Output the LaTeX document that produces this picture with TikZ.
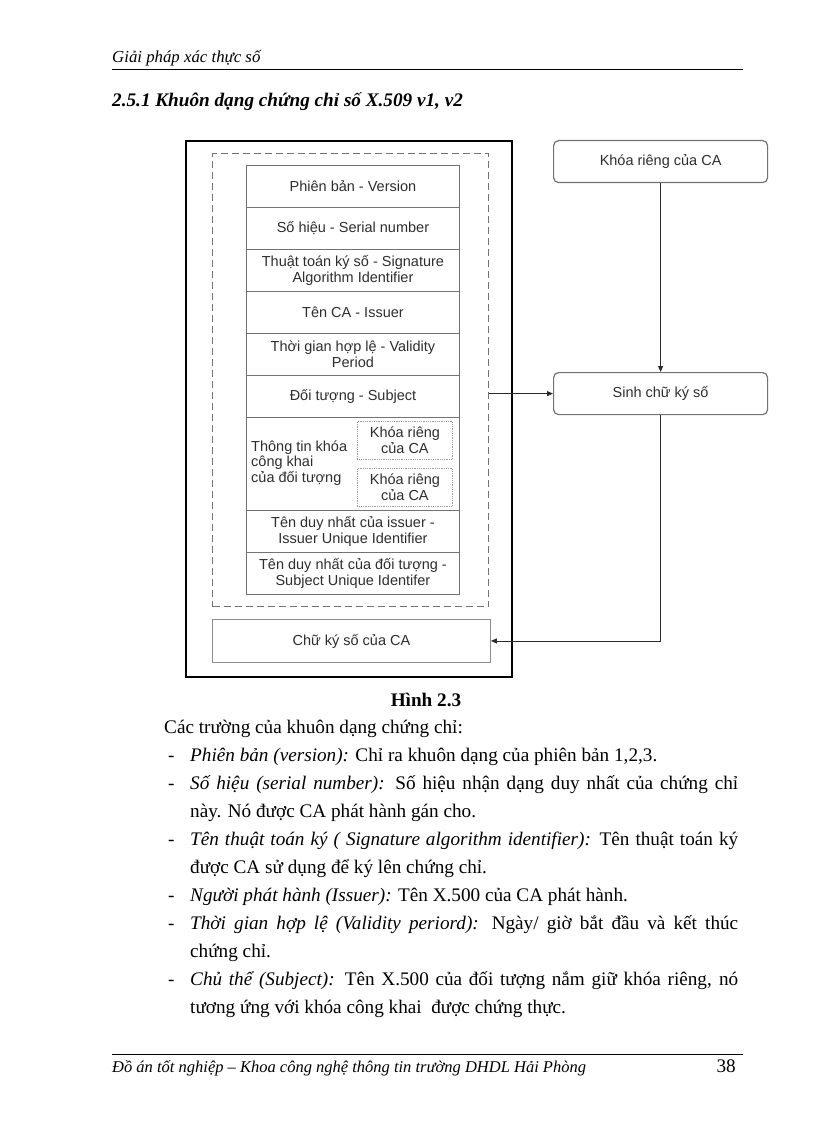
\documentclass[tikz,border=0pt]{standalone}
\usepackage{fontspec}
\setmainfont{Liberation Serif}
\setsansfont{Liberation Sans}
\usetikzlibrary{arrows.meta}
\definecolor{boxgray}{HTML}{727272}
\definecolor{txtgray}{HTML}{2E2E2E}
\definecolor{linegray}{HTML}{2A2A2A}
\newcommand{\bodyfont}{\fontsize{19.2}{28}\selectfont}
\newcommand{\jline}[1]{\hbox to 548pt{#1}}
\begin{document}
\begin{tikzpicture}[x=1pt,y=-1pt,
  field/.style={draw=boxgray, line width=0.9pt, minimum width=213pt, minimum height=42pt,
    anchor=north west, inner sep=1pt, align=center, text=txtgray,
    font=\sffamily\fontsize{14.5}{15.5}\selectfont},
  subbox/.style={draw=boxgray!70, densely dotted, line width=0.8pt, minimum width=95pt,
    minimum height=38pt, anchor=north west, inner sep=1pt, align=center, text=txtgray,
    font=\sffamily\fontsize{14.5}{15.5}\selectfont},
  rbox/.style={draw=boxgray, line width=1.2pt, rounded corners=5pt, minimum width=214pt,
    minimum height=42pt, anchor=north west, text=txtgray,
    font=\sffamily\fontsize{14.5}{15.5}\selectfont},
  conn/.style={draw=linegray, line width=0.8pt, -{Triangle[length=6pt,width=5pt]}},
  bodytext/.style={anchor=base west, inner sep=0pt, font=\bodyfont},
  dashitem/.style={anchor=base west, inner sep=0pt, font=\bodyfont},
  pagehead/.style={anchor=base west, inner sep=0pt, font=\itshape\fontsize{16.8}{16.8}\selectfont}
]
\fill[white] (0,0) rectangle (816,1123);
\path[use as bounding box] (0,0) rectangle (816,1123);

% header
\node[pagehead] (hdr) at (112,63) {Giải pháp xác thực số};
\draw[line width=0.8pt] (112,69) -- (743,69);
\node[anchor=base west, inner sep=0pt, font=\bfseries\itshape\fontsize{19.2}{19.2}\selectfont] (ttl) at (112,107)
  {2.5.1 Khuôn dạng chứng chỉ số X.509 v1, v2};

% certificate boxes
\node[draw=black, line width=2.2pt, minimum width=326pt, minimum height=536pt, anchor=north west] (outer) at (185,140) {};
\node[draw=boxgray, dash pattern=on 7pt off 4pt, line width=1.3pt, minimum width=276pt, minimum height=453pt, anchor=north west] (cert) at (212,153) {};

\node[field] (f1) at (246,165) {Phiên bản - Version};
\node[field] (f2) at (246,207) {Số hiệu - Serial number};
\node[field] (f3) at (246,249) {Thuật toán ký số - Signature\\Algorithm Identifier};
\node[field] (f4) at (246,291) {Tên CA - Issuer};
\node[field] (f5) at (246,333) {Thời gian hợp lệ - Validity\\Period};
\node[field] (f6) at (246,375) {Đối tượng - Subject};
\node[field, minimum height=93pt] (f7) at (246,417) {};
\node[anchor=west, align=left, inner sep=0pt, text=txtgray, font=\sffamily\fontsize{14.5}{15.5}\selectfont] (f7t) at (251,463)
  {Thông tin khóa\\công khai\\của đối tượng};
\node[subbox] (k1) at (357,421) {Khóa riêng\\của CA};
\node[subbox] (k2) at (357,468) {Khóa riêng\\của CA};
\node[field] (f8) at (246,510) {Tên duy nhất của issuer -\\Issuer Unique Identifier};
\node[field] (f9) at (246,552) {Tên duy nhất của đối tượng -\\Subject Unique Identifer};

\node[field, draw=boxgray!80, minimum width=278pt, minimum height=43pt] (chuky) at (212,619) {Chữ ký số của CA};

% right side
\node[rbox] (khoa) at (553,140) {Khóa riêng của CA};
\node[rbox] (sinh) at (553,372) {Sinh chữ ký số};

\draw[conn] (khoa.south) -- (sinh.north);
\draw[conn] (cert.east |- sinh.west) -- (sinh.west);
\draw[conn] (sinh.south) |- (chuky.east);

% caption and text
\node[anchor=base, inner sep=0pt, font=\bfseries\bodyfont] (cap) at (426,706) {Hình 2.3};

\node[bodytext] (l1) at (164,733) {Các trường của khuôn dạng chứng chỉ:};
\node[dashitem] (d2) at (168,761) {-};
\node[bodytext] (l2) at (190,761) {\textit{Phiên bản (version):} Chỉ ra khuôn dạng của phiên bản 1,2,3.};
\node[dashitem] (d3) at (168,789) {-};
\node[bodytext] (l3) at (190,789) {\jline{\textit{Số hiệu (serial number):} Số hiệu nhận dạng duy nhất của chứng chỉ}};
\node[bodytext] (l4) at (190,817) {này. Nó được CA phát hành gán cho.};
\node[dashitem] (d5) at (168,845) {-};
\node[bodytext] (l5) at (190,845) {\jline{\textit{Tên thuật toán ký ( Signature algorithm identifier):} Tên thuật toán ký}};
\node[bodytext] (l6) at (190,873) {được CA sử dụng để ký lên chứng chỉ.};
\node[dashitem] (d7) at (168,901) {-};
\node[bodytext] (l7) at (190,901) {\textit{Người phát hành (Issuer):} Tên X.500 của CA phát hành.};
\node[dashitem] (d8) at (168,929) {-};
\node[bodytext] (l8) at (190,929) {\jline{\textit{Thời gian hợp lệ (Validity periord):} Ngày/ giờ bắt đầu và kết thúc}};
\node[bodytext] (l9) at (190,957) {chứng chỉ.};
\node[dashitem] (d10) at (168,985) {-};
\node[bodytext] (l10) at (190,985) {\jline{\textit{Chủ thể (Subject):} Tên X.500 của đối tượng nắm giữ khóa riêng, nó}};
\node[bodytext] (l11) at (190,1013) {tương ứng với khóa công khai \ được chứng thực.};

% footer
\draw[line width=0.8pt] (112,1054) -- (743,1054);
\node[pagehead, font=\itshape\fontsize{16.5}{16.5}\selectfont] (ftr) at (112,1072) {Đồ án tốt nghiệp – Khoa công nghệ thông tin trường DHDL Hải Phòng};
\node[anchor=base east, inner sep=0pt, font=\fontsize{19.2}{19.2}\selectfont] (pg) at (736,1072) {38};
\end{tikzpicture}
\end{document}
